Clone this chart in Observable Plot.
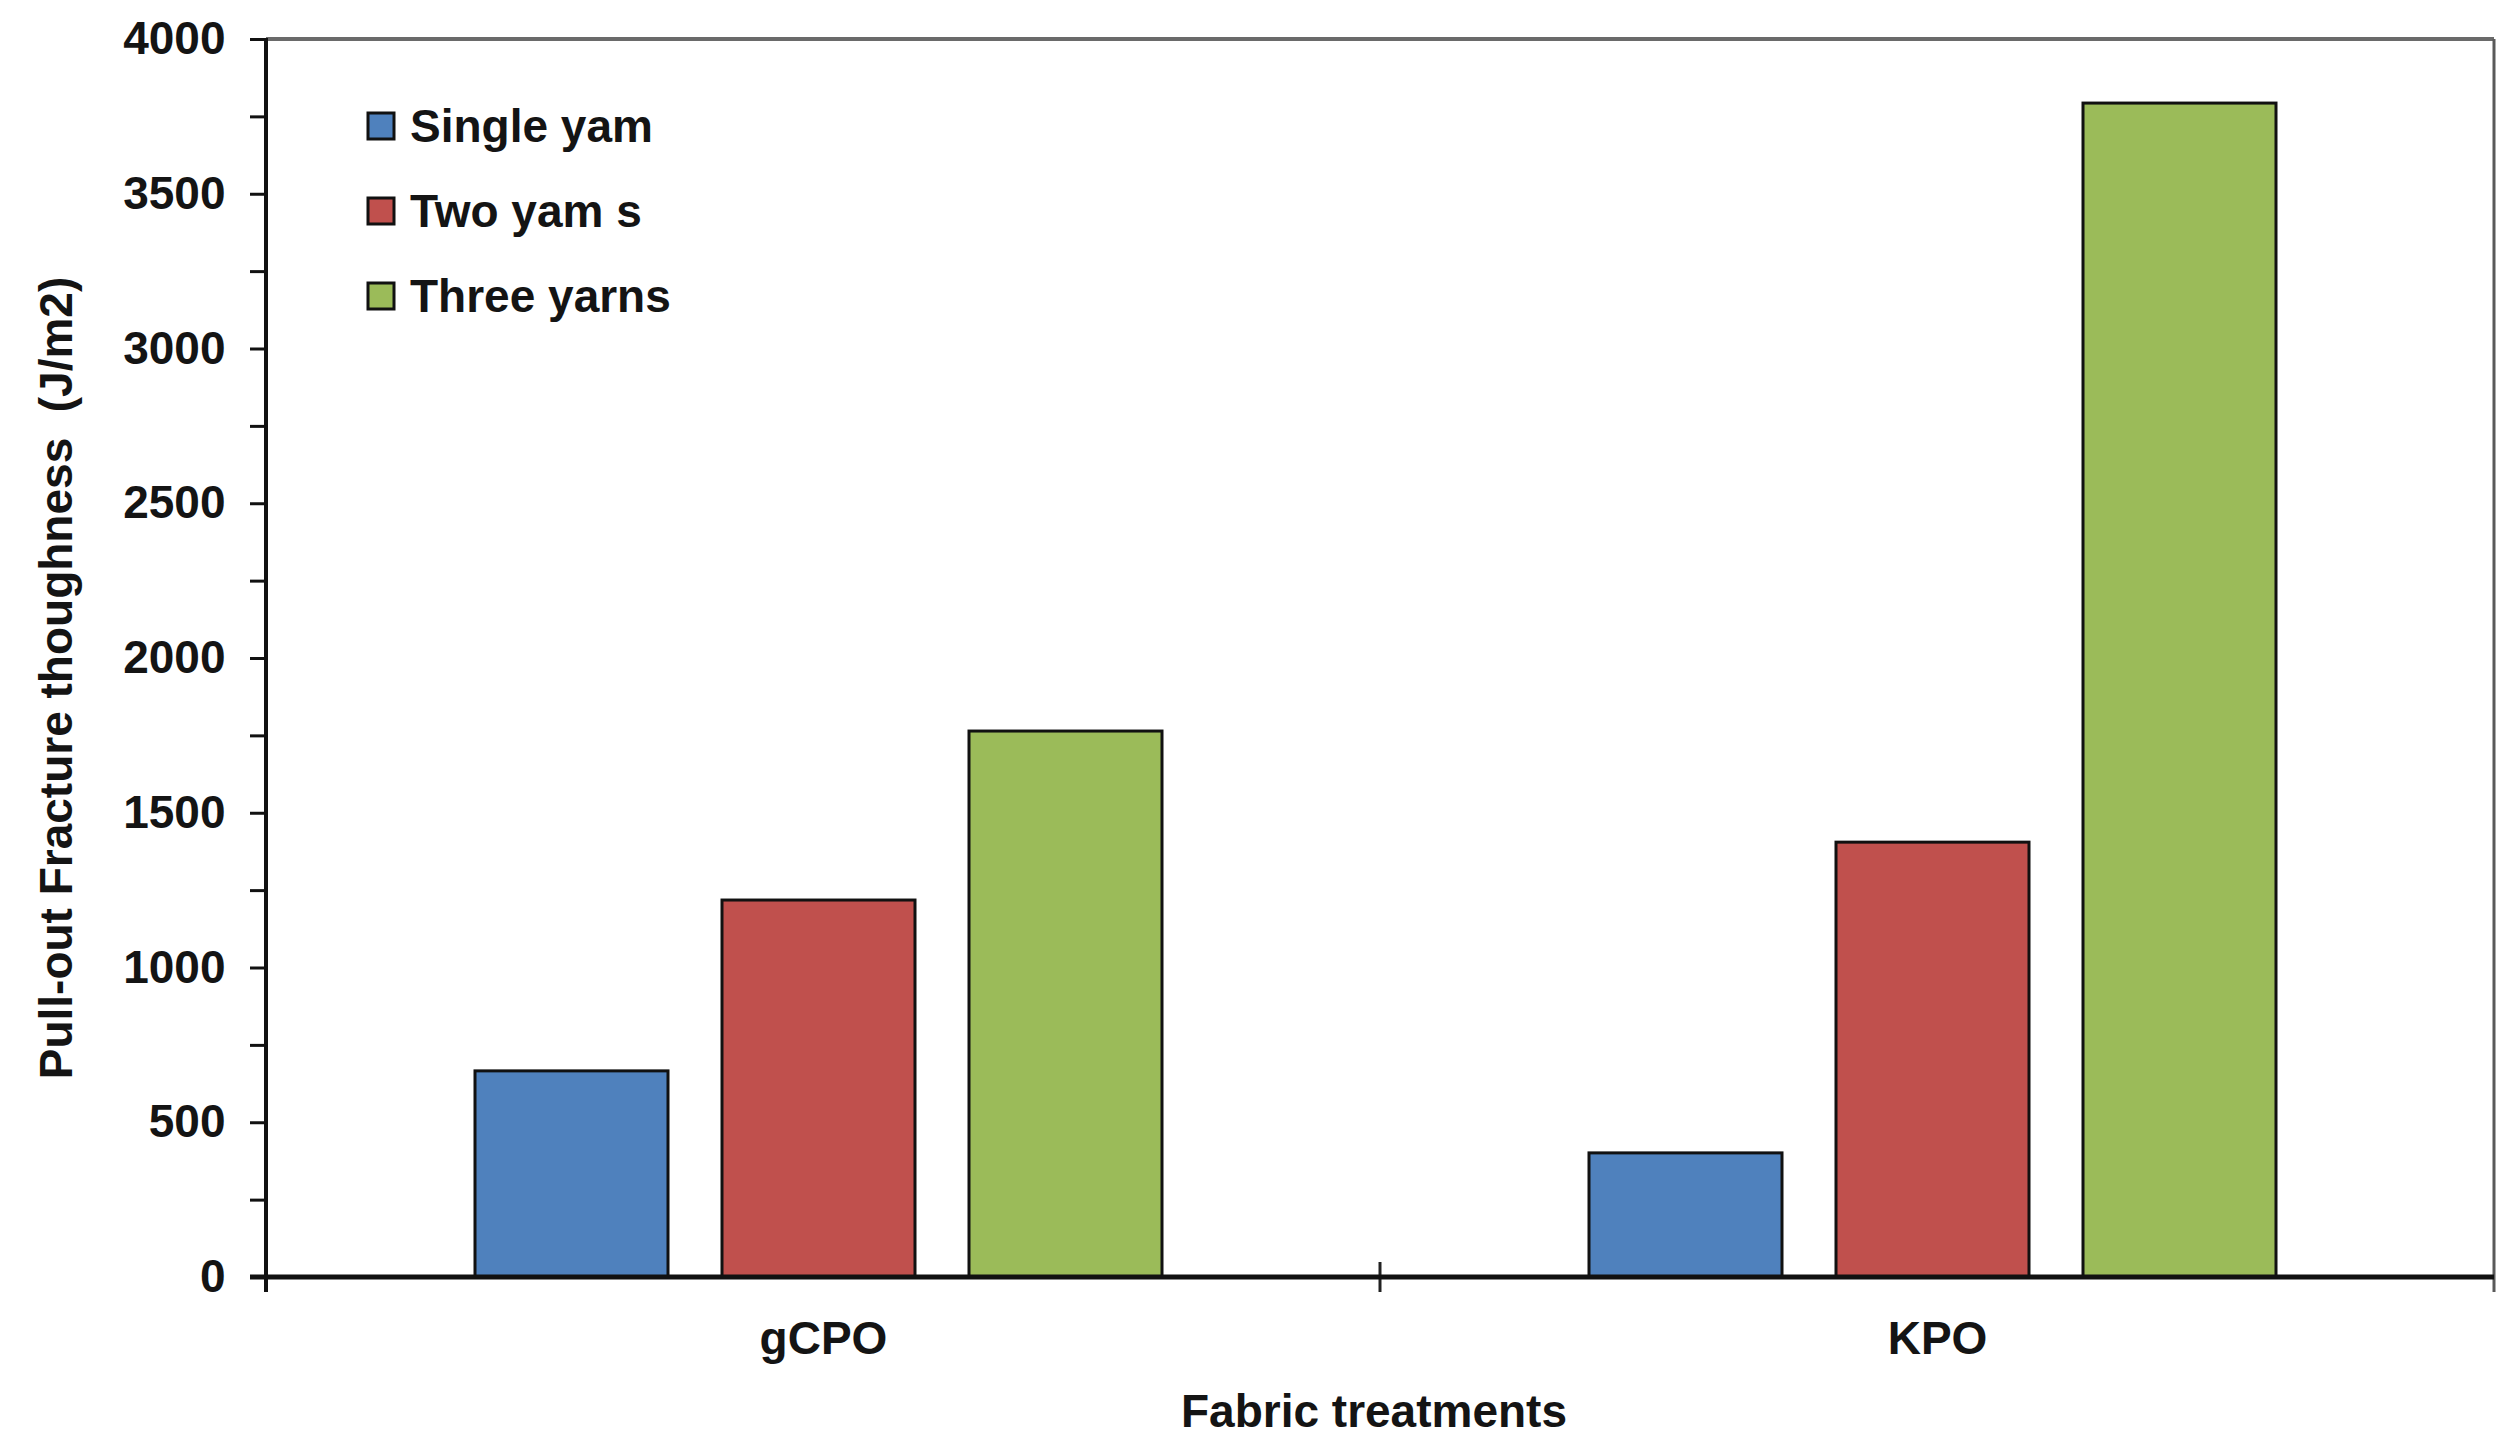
<!DOCTYPE html>
<html>
<head>
<meta charset="utf-8">
<script src="https://cdn.jsdelivr.net/npm/d3@7"></script>
<script src="https://cdn.jsdelivr.net/npm/@observablehq/plot@0.6"></script>
<style>
  html, body { margin: 0; padding: 0; background: #fff; }
  #chart svg { display: block; }
</style>
</head>
<body>
<div id="chart"></div>
<script>
// ---- data ----
const categories = ["gCPO", "KPO"];
const series = ["Single yam", "Two yam s", "Three yarns"];
const singleYarn = [666, 401];
const twoYarns = [1218, 1405];
const threeYarns = [1764, 3793];
const seriesColors = ["#4F81BD", "#C0504D", "#9BBB59"];
const yTicks = [0, 500, 1000, 1500, 2000, 2500, 3000, 3500, 4000];
const yMinorTicks = [250, 750, 1250, 1750, 2250, 2750, 3250, 3750];
const yTitle = "Pull-out Fracture thoughness\u00a0 (J/m2)";
const xTitle = "Fabric treatments";

const seriesValues = [singleYarn, twoYarns, threeYarns];
const data = categories.flatMap((c, i) =>
  series.map((s, j) => ({category: c, series: s, value: seriesValues[j][i]}))
);

const FONT = "'Liberation Sans', Arial, Helvetica, sans-serif";
const TEXT = "#141414";
const W = 2520, H = 1448;

const chart = Plot.plot({
  width: W,
  height: H,
  marginLeft: 266,
  marginRight: 26,
  marginTop: 39,
  marginBottom: 171,
  style: {fontFamily: FONT, fontSize: "46px", fontWeight: "bold", color: TEXT, background: "#fff"},
  fx: {domain: categories, padding: 0, axis: null, label: null},
  x: {domain: series, paddingInner: 0.22, paddingOuter: 0.86, align: 0.49, axis: null, label: null},
  y: {domain: [0, 4000], axis: null, label: null},
  color: {domain: series, range: seriesColors},
  marks: [
    Plot.barY(data, {fx: "category", x: "series", y: "value", fill: "series", stroke: "#111", strokeWidth: 3}),
    Plot.axisY(yMinorTicks, {tickSize: 16, tickFormat: () => "", stroke: "#111", strokeWidth: 3, label: null}),
    Plot.axisY(yTicks, {tickSize: 16, tickPadding: 25, tickFormat: d => String(d), stroke: "#111", strokeWidth: 3,
      fontSize: 46, fontWeight: "bold", label: null}),
    Plot.axisFx({anchor: "bottom", tickSize: 0, tickPadding: 44, fontSize: 46, fontWeight: "bold", label: null})
  ]
});

document.getElementById("chart").appendChild(chart);

// ---- frame, category boundary ticks, titles and legend, positioned from Plot's scales ----
const svg = d3.select(chart);
const yS = chart.scale("y");
const fxS = chart.scale("fx");
const x0 = 266, x1 = W - 26;
const yTop = yS.apply(4000), yZero = yS.apply(0);
const g = svg.append("g").attr("text-anchor", "start");
function line(xa, ya, xb, yb, stroke, w) {
  g.append("line").attr("x1", xa).attr("y1", ya).attr("x2", xb).attr("y2", yb)
    .attr("stroke", stroke).attr("stroke-width", w);
}
line(x0, yTop, x1, yTop, "#6a6a6a", 4);
line(x1, yTop, x1, yZero + 15, "#5a5a5a", 3);
categories.slice(1).forEach(c => {
  const xb = fxS && fxS.apply ? fxS.apply(c) : (x0 + x1) / 2;
  line(xb, yZero - 15, xb, yZero + 15, "#222", 3);
});
line(x0, yTop - 1, x0, yZero + 15, "#111", 4);
line(x0 - 16, yZero, x1, yZero, "#111", 5);

// axis titles
g.append("text")
  .attr("transform", `translate(56, 678) rotate(-90)`)
  .attr("text-anchor", "middle").attr("dominant-baseline", "central")
  .attr("font-family", FONT).attr("font-size", 46).attr("font-weight", "bold")
  .attr("fill", TEXT).text(yTitle);
g.append("text")
  .attr("x", 1374).attr("y", 1411)
  .attr("text-anchor", "middle").attr("dominant-baseline", "central")
  .attr("font-family", FONT).attr("font-size", 46).attr("font-weight", "bold")
  .attr("fill", TEXT).text(xTitle);

// legend
const colorS = chart.scale("color");
series.forEach((s, i) => {
  const cy = 126 + i * 85;
  g.append("rect").attr("x", 368).attr("y", cy - 13).attr("width", 26).attr("height", 26)
    .attr("fill", colorS.apply(s)).attr("stroke", "#111").attr("stroke-width", 3);
  g.append("text").attr("x", 410).attr("y", cy)
    .attr("text-anchor", "start").attr("dominant-baseline", "central")
    .attr("font-family", FONT).attr("font-size", 46).attr("font-weight", "bold")
    .attr("fill", TEXT).text(s);
});
</script>
</body>
</html>
